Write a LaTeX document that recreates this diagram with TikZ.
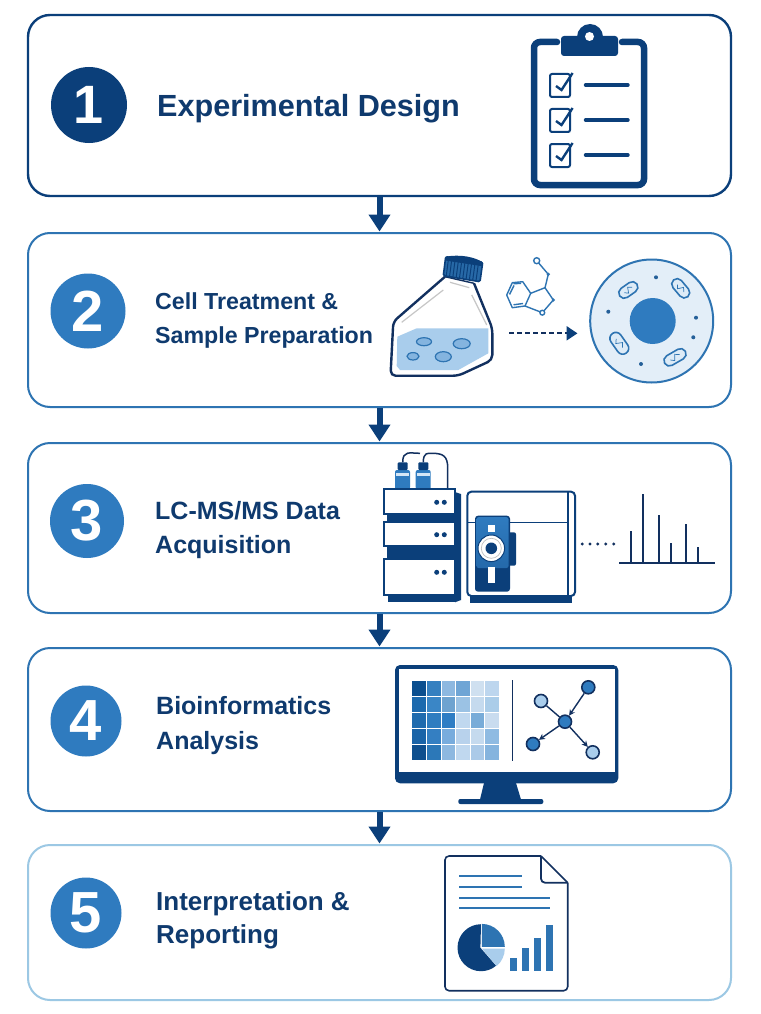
\documentclass[tikz,border=0pt]{standalone}
\usepackage{fontspec}
\setmainfont{Liberation Sans}
\usetikzlibrary{arrows.meta,calc}
\definecolor{navy}{HTML}{0B3F7A}
\definecolor{midblue}{HTML}{2F7BBF}
\definecolor{ink}{HTML}{12305F}
\definecolor{textblue}{HTML}{0F3A6E}
\definecolor{edgeblue}{HTML}{2E74B2}
\definecolor{edgepale}{HTML}{9CC8E4}
\definecolor{liquid}{HTML}{A9CDEC}
\definecolor{cellfill}{HTML}{E3EEF8}
\tikzset{
  stepbox/.style={draw,fill=white,rounded corners=22pt,line width=2pt,minimum width=703pt,inner sep=0pt},
  badge/.style={circle,inner sep=0pt,text=white,font=\fontsize{58}{58}\selectfont\bfseries},
  steptext/.style={anchor=west,align=left,inner sep=0pt,text=textblue,font=\fontsize{#1}{33.5}\selectfont\bfseries},
  flowarrow/.style={draw=navy,line width=6pt,-{Triangle[length=17pt,width=21pt]},shorten >=0.5pt},
  icon/.style={draw=navy,line width=3pt},
  mito/.style={draw=edgeblue,fill=white!60!liquid,line width=1.6pt},
  mol/.style={draw=edgeblue,line width=1.4pt,line join=round},
  molatom/.style={draw=edgeblue,fill=white,line width=1.4pt},
  peak/.style={draw=ink,line width=2pt},
  netnode/.style={circle,draw=ink,line width=1.6pt,minimum size=13pt,inner sep=0pt},
  netlink/.style={draw=ink,line width=1.4pt},
  netarrow/.style={netlink,-{Stealth[length=6pt,width=6pt]}},
  rack/.style={draw=navy,fill=white,line width=2.2pt},
}
\newcommand{\mitochon}[5]{%
  \draw[mito,shift={(#1,#2)},rotate=#3,rounded corners=#5pt] (-#4,-#5) rectangle (#4,#5);
  \draw[edgeblue,line width=0.7pt,shift={(#1,#2)},rotate=#3] (-#4*0.45,0) -- (-#4*0.15,#5*0.5) -- (#4*0.1,-#5*0.5) -- (#4*0.45,0);
}
\begin{document}
\begin{tikzpicture}[x=1pt,y=-1pt]
\useasboundingbox (0,0) rectangle (760,1014);
\fill[white] (0,0) rectangle (760,1014);

% step boxes
\node (b1) [stepbox,draw=navy,line width=2.4pt,minimum height=181pt] at (379.5,105.5) {};
\node (b2) [stepbox,draw=edgeblue,minimum height=174pt] at (379.5,320) {};
\node (b3) [stepbox,draw=edgeblue,minimum height=170pt] at (379.5,528) {};
\node (b4) [stepbox,draw=edgeblue,minimum height=163pt] at (379.5,729.5) {};
\node (b5) [stepbox,draw=edgepale,minimum height=155pt] at (379.5,922.5) {};

% connectors
\draw[flowarrow] (b1.south) -- (b2.north);
\draw[flowarrow] (b2.south) -- (b3.north);
\draw[flowarrow] (b3.south) -- (b4.north);
\draw[flowarrow] (b4.south) -- (b5.north);

% badges
\node (n1) [badge,fill=navy,minimum size=76pt,font=\fontsize{54}{54}\selectfont\bfseries] at (89,105) {1};
\node (n2) [badge,fill=midblue,minimum size=75pt] at (88,311) {2};
\node (n3) [badge,fill=midblue,minimum size=74pt] at (87,521) {3};
\node (n4) [badge,fill=midblue,minimum size=71pt] at (86,721) {4};
\node (n5) [badge,fill=midblue,minimum size=71pt] at (86,913) {5};

% labels
\node (t1) [steptext=30.6] at (157,108.5) {Experimental Design};
\node (t2) [steptext=23.2] at (155,320.5) {Cell Treatment \&\\Sample Preparation};
\node (t3) [steptext=25] at (155,530) {LC-MS/MS Data\\Acquisition};
\node (t4) [steptext=25,font=\fontsize{25}{35}\selectfont\bfseries] at (156,726) {Bioinformatics\\Analysis};
\node (t5) [steptext=26] at (156,920.5) {Interpretation \&\\Reporting};

% --- clipboard
\draw[icon,line width=6.5pt,rounded corners=6pt,line cap=round] (557,42) -- (534,42) -- (534,185) -- (644,185) -- (644,42) -- (622,42);
\fill[navy,rounded corners=3pt] (561,36) rectangle (618,56);
\fill[navy] (590,37) circle (13);
\fill[white] (589.5,36.5) circle (4.5);
\foreach \yy in {74,109,144}{
  \draw[navy,line width=2pt,rounded corners=2pt] (550,\yy) rectangle (570,\yy+23);
  \draw[navy,line width=2.4pt] (556,\yy+12) -- (561.5,\yy+16) -- (572.6,\yy-1);
  \draw[navy,line width=3.4pt,line cap=round] (585.5,\yy+11) -- (628,\yy+11);
}

% --- flask
\fill[white] (445,276.7) -- (393.3,321.7) -- (391,373) -- (458.3,375.7) -- (492.3,360) -- (492.3,328.3) -- (474,283.3) -- cycle;
\fill[liquid] (397.3,336.7) -- (416.7,328.3) -- (488.3,328.3) -- (488.3,353.3) -- (458.3,370) -- (400,370) -- (396.7,366) -- cycle;
\draw[ink,line width=2.4pt,rounded corners=5pt,line join=round] (445,276.7) -- (393.3,321.7) -- (390.5,375.7) -- (458.3,375.7) -- (492.3,360) -- (492.3,328.3) -- (474,283.3);
\draw[ink,line width=1.4pt] (445,276.7) -- (474,283.3);
\foreach \ex/\ey/\rx/\ry in {424/341.7/7.5/4, 461.7/343.7/8.5/5, 443.3/356.7/8/5, 413/356.3/6/3.7}{
  \draw[edgeblue,fill=liquid!70!midblue,line width=1.2pt] (\ex,\ey) ellipse [x radius=\rx pt,y radius=\ry pt];
}
\draw[gray!45,line width=1.2pt] (401.7,322.3) -- (443.3,290);
\draw[gray!45,line width=1.2pt] (450,282.3) -- (469.3,287.7);
\draw[gray!45,line width=1.2pt] (471.7,295) -- (486.7,325);
\coordinate (capA) at (445.7,256.7);
\coordinate (capB) at (482.7,262.3);
\coordinate (capC) at (480,281.7);
\coordinate (capD) at (443.3,275.7);
\fill[edgeblue!80!navy] (capA) -- (capB) -- (capC) -- (capD) -- cycle;
\foreach \t in {0.08,0.17,...,0.95}{
  \draw[navy,line width=1pt] ($(capA)!\t!(capB)$) -- ($(capD)!\t!(capC)$);
}
\draw[navy,line width=1.6pt,rounded corners=1.5pt] (capA) -- (capB) -- (capC) -- (capD) -- cycle;
\fill[navy] (capA) .. controls (460,254) and (475,257) .. (capB) -- ($(capB)!0.2!(capC)$) -- ($(capA)!0.2!(capD)$) -- cycle;

% --- molecule
\draw[mol] (506.7,295) -- (512.3,282.7) -- (522.7,281.7) -- (530.7,293.3) -- (525,306) -- (512.3,307.7) -- cycle;
\draw[mol] (509.5,294.5) -- (514,285.5);
\draw[mol] (513.5,304.8) -- (523,303.5);
\draw[mol] (513.5,283.8) -- (521,283.3);
\draw[mol] (530.7,293.3) -- (545,287.7) -- (553.3,300) -- (542.3,312.7) -- (525,306);
\draw[mol] (545,287.7) -- (548.3,274.3) -- (536.7,260.7);
\draw[molatom] (536.7,260.7) circle (3);
\fill[edgeblue] (548.3,274.3) circle (1.8);
\fill[edgeblue] (553.3,300) circle (1.8);
\draw[molatom] (542.3,312.7) circle (2.4);

% --- dashed arrow
\coordinate (dashA) at (509.3,333.3);
\coordinate (dashB) at (577.5,333.3);
\draw[ink,line width=2.2pt,dash pattern=on 4.5pt off 3.5pt,-{Triangle[length=11pt,width=14pt,color=navy]}] (dashA) -- (dashB);

% --- cell
\draw[edgeblue,fill=cellfill,line width=2pt] (651.7,321) circle (61.5);
\fill[midblue] (652.7,321) circle (23);
\mitochon{628.3}{290}{35}{10.5}{5.5}
\mitochon{680.7}{288.3}{-50}{11}{5.5}
\mitochon{619.3}{343.3}{-55}{12}{6}
\mitochon{675}{357.3}{30}{12}{5.5}
\foreach \dx/\dy in {656/277.3,608.3/311.7,696/317.7,693.3/337.3,641/364}{
  \fill[edgeblue!70!ink] (\dx,\dy) circle (2);
}

% --- LC stack
\fill[navy] (455,492) -- (461,494) -- (461,600) -- (455,602.3) -- cycle;
\draw[ink,line width=1.5pt] (402.7,462.3) .. controls (402.7,450) and (410,453.3) .. (420,453.3);
\draw[ink,line width=1.5pt] (423.3,462.3) .. controls (423.3,452) and (428,453.3) .. (432,453.3) .. controls (443,453.3) and (447.7,456) .. (447.7,468) -- (447.7,489.3);
\foreach \bx in {395,415.7}{
  \fill[midblue,rounded corners=2pt] (\bx,470) rectangle (\bx+15,489.3);
  \fill[liquid!50!white] (\bx+1,473) rectangle (\bx+14,476);
  \fill[navy,rounded corners=1pt] (\bx+2.7,462.3) rectangle (\bx+12.7,470);
}
\fill[navy] (386.5,514) rectangle (455,521.7);
\fill[navy] (386.5,546.3) rectangle (455,558.5);
\fill[navy] (387.7,595) rectangle (455,602.3);
\draw[rack] (384.3,489.3) rectangle (455,514);
\draw[rack] (384.3,522.3) rectangle (455,546.3);
\draw[rack] (384.3,559) rectangle (455,595);
\foreach \dy in {502.3,534.7,572.3}{
  \fill[navy] (436.7,\dy) circle (2.5);
  \fill[navy] (444.3,\dy) circle (2.5);
}

% --- MS instrument
\fill[navy] (470,596) rectangle (571.7,603.3);
\draw[rack,line width=2pt,rounded corners=4pt] (467.3,491.7) rectangle (575,596);
\draw[navy,line width=1.6pt] (567.7,491.7) -- (567.7,596);
\draw[navy,line width=1.6pt] (467.3,522.3) -- (567.7,522.3);
\fill[navy,rounded corners=2pt] (508,532.3) rectangle (516,565.7);
\fill[navy,rounded corners=3pt] (475,515.7) rectangle (510,591.7);
\shade[top color=midblue,bottom color=midblue!70!navy,rounded corners=2pt] (476.5,517.2) rectangle (508.5,568);
\fill[white] (487.7,525) rectangle (495,532.3);
\fill[white] (488.3,566.7) rectangle (495,583.3);
\draw[navy,fill=white,line width=1pt] (491.3,548.3) circle (13.3);
\draw[gray!50,line width=0.7pt] (491.3,548.3) circle (10);
\fill[navy] (491.3,548.3) circle (5.8);

% --- dots and spectrum
\foreach \dx in {582.3,590,597.7,605.7,613.7}{
  \fill[ink] (\dx,544) circle (1.6);
}
\coordinate (specL) at (619.3,563);
\coordinate (specR) at (715,563);
\draw[peak] (specL) -- (specR);
\foreach \px/\py in {631/531,642.7/494,658.7/515,670.7/542.7,686.3/524.3,697.7/546.7}{
  \draw[peak] (\px,563) -- (\px,\py);
}

% --- monitor
\fill[navy,rounded corners=5pt] (395,665) rectangle (618.3,783.3);
\fill[white] (399,669) rectangle (615,772.3);
\fill[navy] (484,783) -- (516,783) -- (521,799.5) -- (480,799.5) -- cycle;
\fill[navy,rounded corners=2pt] (458.3,799) rectangle (543.3,804);
\def\cw{14.6}\def\ch{16.1}
\foreach \row/\cola/\colb/\colc/\cold/\cole/\colf [count=\r from 0] in {
  0/0B4F8F/3580C0/8DB8E0/6FA5D5/CFE0F0/BDD6EE,
  1/1C6AAE/3A86C6/6EA3D0/9BC2E4/C5DAEE/ABCDE9,
  2/1F6BAE/2F7DC0/2E7DC4/C0D8EF/79ACD8/C9DCEF,
  3/1A64A8/347FC2/78ACDD/B8D2EC/C5DAEE/8FBBE2,
  4/0E4F8E/2C78B8/8DB8E0/C0D8EF/ABCAE8/85B4DE}{
  \foreach \hx [count=\c from 0] in {\cola,\colb,\colc,\cold,\cole,\colf}{
    \definecolor{cellc}{HTML}{\hx}
    \fill[cellc,draw=white,line width=0.8pt] (411.7+\c*\cw,680+\r*\ch) rectangle +(\cw,\ch);
  }
}
\draw[ink,line width=1.6pt] (512.3,680) -- (512.3,760.7);
\node (hub) [netnode,fill=midblue] at (565,721.7) {};
\node (na) [netnode,fill=midblue] at (588.3,687.3) {};
\node (nb) [netnode,fill=liquid] at (541,701) {};
\node (nc) [netnode,fill=midblue] at (533,744) {};
\node (nd) [netnode,fill=liquid] at (592.7,752.3) {};
\draw[netarrow] (na) -- (hub);
\draw[netlink] (nb) -- (hub);
\draw[netarrow] (hub) -- (nc);
\draw[netarrow] (hub) -- (nd);

% --- report
\draw[ink,fill=white,line width=1.6pt,rounded corners=4pt] (541,856) -- (445,856) -- (445,990.7) -- (567.7,990.7) -- (567.7,882.7);
\draw[ink,line width=1.6pt] (541,856) -- (567.7,882.7);
\draw[ink,line width=1.8pt,rounded corners=4pt] (541,856) -- (541,882.7) -- (567.7,882.7);
\foreach \lx/\ly in {522.3/876,522.3/887,550/898,550/908}{
  \draw[edgeblue,line width=1.8pt] (459,\ly) -- (\lx,\ly);
}
\begin{scope}[shift={(481,947.7)},y=1pt]
  \fill[navy] (-0.6,0) -- (90:23.5) arc[start angle=90,end angle=310,radius=23.5] -- cycle;
  \fill[edgeblue] (0.8,0.8) -- ++(0,23) arc[start angle=90,end angle=0,radius=23] -- cycle;
  \fill[liquid] (0.8,-0.8) -- ++(23,0) arc[start angle=0,end angle=-50,radius=23] -- cycle;
\end{scope}
\foreach \bl/\bt/\br in {509.7/957.7/517.3,521.7/948.3/529.3,533.7/937.7/541,545.7/925/553.3}{
  \fill[edgeblue] (\bl,\bt) rectangle (\br,971);
}
\end{tikzpicture}
\end{document}
